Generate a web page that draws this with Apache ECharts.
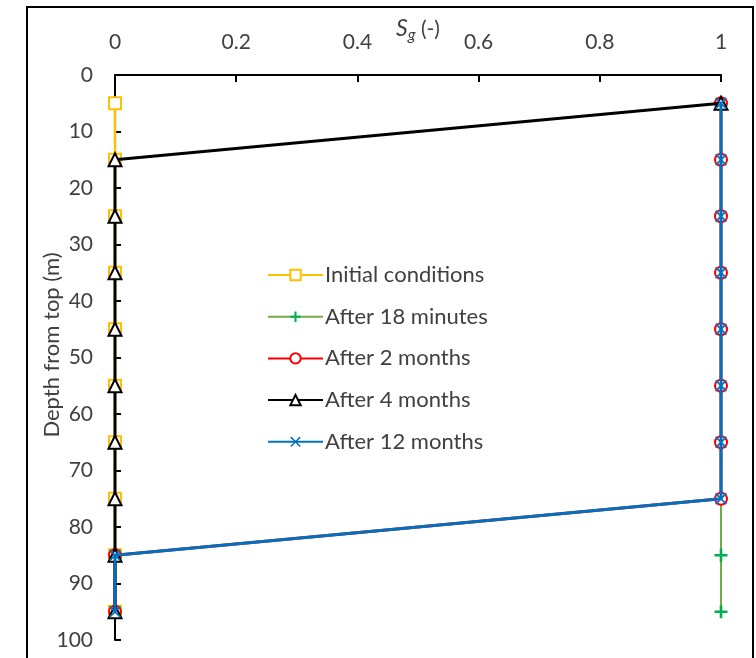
<!DOCTYPE html>
<html><head><meta charset="utf-8">
<script src="https://cdn.jsdelivr.net/npm/echarts@6/dist/echarts.min.js"></script>
<style>html,body{margin:0;padding:0;background:#fff}#c{width:756px;height:658px}</style>
</head><body><div id="c"></div>
<script>
const depths = [5, 15, 25, 35, 45, 55, 65, 75, 85, 95];
const seriesNames = ['Initial conditions', 'After 18 minutes', 'After 2 months', 'After 4 months', 'After 12 months'];
const sgInitial = [0, 0, 0, 0, 0, 0, 0, 0, 0, 0];
const sg18min   = [1, 1, 1, 1, 1, 1, 1, 1, 1, 1];
const sg2month  = [1, 1, 1, 1, 1, 1, 1, 1, 0, 0];
const sg4month  = [1, 0, 0, 0, 0, 0, 0, 0, 0, 0];
const sg12month = [1, 1, 1, 1, 1, 1, 1, 1, 0, 0];
const xTicks = [0, 0.2, 0.4, 0.6, 0.8, 1];
const yTicks = [0, 10, 20, 30, 40, 50, 60, 70, 80, 90, 100];
const yAxisTitle = 'Depth from top (m)';

const FONT = 'Lato';
const TXT = '#404040';
const pair = arr => arr.map((v, i) => [v, depths[i]]);

const styles = [
  {line: '#FFC000', mk: '#FFC000', symbol: 'rect', size: 12, fill: '#fff', w: 2.5},
  {line: '#70AD47', mk: '#00B050', symbol: 'path://M4,0 L6,0 L6,4 L10,4 L10,6 L6,6 L6,10 L4,10 L4,6 L0,6 L0,4 L4,4 Z', size: 13, fill: '#00B050', noBorder: true, w: 2},
  {line: '#FF0000', mk: '#FF0000', symbol: 'circle', size: 12, fill: '#fff', w: 3},
  {line: '#000000', mk: '#000000', symbol: 'triangle', size: 13, fill: '#fff', w: 3},
  {line: '#0070C0', mk: '#0070C0', symbol: 'path://M1,0 L5,4 L9,0 L10,1 L6,5 L10,9 L9,10 L5,6 L1,10 L0,9 L4,5 L0,1 Z', size: 12, fill: '#0070C0', noBorder: true, w: 3}
];
const datas = [sgInitial, sg18min, sg2month, sg4month, sg12month];

const series = datas.map((d, i) => ({
  name: seriesNames[i],
  type: 'line',
  data: pair(d),
  symbol: styles[i].symbol,
  symbolSize: styles[i].size,
  showAllSymbol: true,
  z: 2 + i,
  lineStyle: {color: styles[i].line, width: styles[i].w},
  itemStyle: {
    color: styles[i].fill,
    borderColor: styles[i].mk,
    borderWidth: styles[i].noBorder ? 0 : 2
  },
  emphasis: {disabled: true},
  animation: false
}));

const chart = echarts.init(document.getElementById('c'));
chart.setOption({
  animation: false,
  backgroundColor: '#fff',
  grid: {left: 115, right: 35, top: 75, bottom: 18, containLabel: false, outerBoundsMode: 'none'},
  xAxis: {
    type: 'value', position: 'top', min: 0, max: 1, interval: 0.2,
    name: '{s|S}{sub|g}{n| (-)}',
    nameLocation: 'middle', nameGap: 32, nameMoveOverlap: false,
    nameTextStyle: {
      rich: {
        s: {fontFamily: FONT, fontStyle: 'italic', fontSize: 23, color: TXT},
        sub: {fontFamily: FONT, fontStyle: 'italic', fontSize: 16, color: TXT, verticalAlign: 'bottom', padding: [12, 0, 0, 0]},
        n: {fontFamily: FONT, fontSize: 21, color: TXT}
      }
    },
    axisLine: {show: true, lineStyle: {color: '#000', width: 2}},
    axisTick: {show: true, inside: true, length: 7, lineStyle: {color: '#000', width: 2}},
    axisLabel: {fontFamily: FONT, fontSize: 21, color: TXT, margin: 22,
      formatter: v => String(parseFloat(v.toFixed(1)))},
    splitLine: {show: false}
  },
  yAxis: {
    type: 'value', inverse: true, min: 0, max: 100, interval: 10,
    axisLine: {show: true, lineStyle: {color: '#000', width: 2}},
    axisTick: {show: true, inside: true, length: 6, lineStyle: {color: '#000', width: 2}},
    axisLabel: {fontFamily: FONT, fontSize: 21, color: TXT, margin: 22},
    splitLine: {show: false}
  },
  legend: {
    orient: 'vertical', left: 262, top: 259,
    itemWidth: 55, itemHeight: 13, itemGap: 19.7,
    textStyle: {fontFamily: FONT, fontSize: 22, color: TXT, padding: [0, 0, 0, -3]},
    data: seriesNames,
    selectedMode: false
  },
  graphic: [{
    type: 'rect', shape: {x: 27, y: 7, width: 726, height: 670},
    style: {fill: 'none', stroke: '#000', lineWidth: 2}, silent: true, z: 100
  }, {
    type: 'text', x: 52, y: 345, rotation: Math.PI / 2,
    style: {text: yAxisTitle, font: '22px Lato', fill: TXT, textAlign: 'center', textVerticalAlign: 'middle'},
    silent: true
  }],
  series: series
});
</script>
</body></html>
